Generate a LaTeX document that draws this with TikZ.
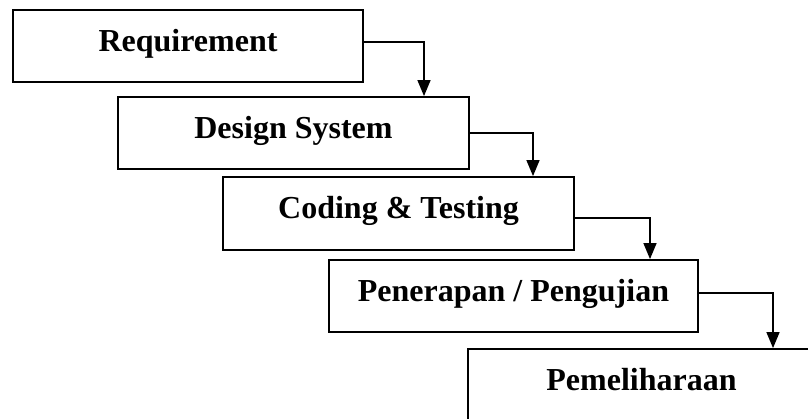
\documentclass[tikz,border=0pt]{standalone}
\usepackage{fontspec}
\setmainfont{Liberation Serif}
\usetikzlibrary{arrows.meta}
\begin{document}
\begin{tikzpicture}[x=1pt,y=-1pt,
  stage/.style={draw, line width=1.8pt, inner sep=0pt, minimum height=72pt,
    text height=25pt, text depth=14pt,
    font=\fontsize{32}{36}\selectfont\bfseries},
  flow/.style={line width=1.4pt, -{Triangle[width=13pt,length=16pt]}}]
\useasboundingbox (0,0) rectangle (808,419);
\clip (0,0) rectangle (808,419);
\node[stage, minimum width=350pt] (b1) at (188,46) {Requirement};
\node[stage, minimum width=351pt] (b2) at (293.5,133) {Design System};
\node[stage, minimum width=351pt, minimum height=73pt] (b3) at (398.5,213.5) {Coding \& Testing};
\node[stage, minimum width=369pt] (b4) at (513.5,296) {Penerapan / Pengujian};
\node[stage, minimum width=347pt] (b5) at (641.5,385) {Pemeliharaan};
\draw[flow] ([yshift=4pt]b1.east) -| ([xshift=130.5pt]b2.north);
\draw[flow] (b2.east) -| ([xshift=134.5pt]b3.north);
\draw[flow] ([yshift=-4.5pt]b3.east) -| ([xshift=136.5pt]b4.north);
\draw[flow] ([yshift=3pt]b4.east) -| ([xshift=131.5pt]b5.north);
\end{tikzpicture}
\end{document}
